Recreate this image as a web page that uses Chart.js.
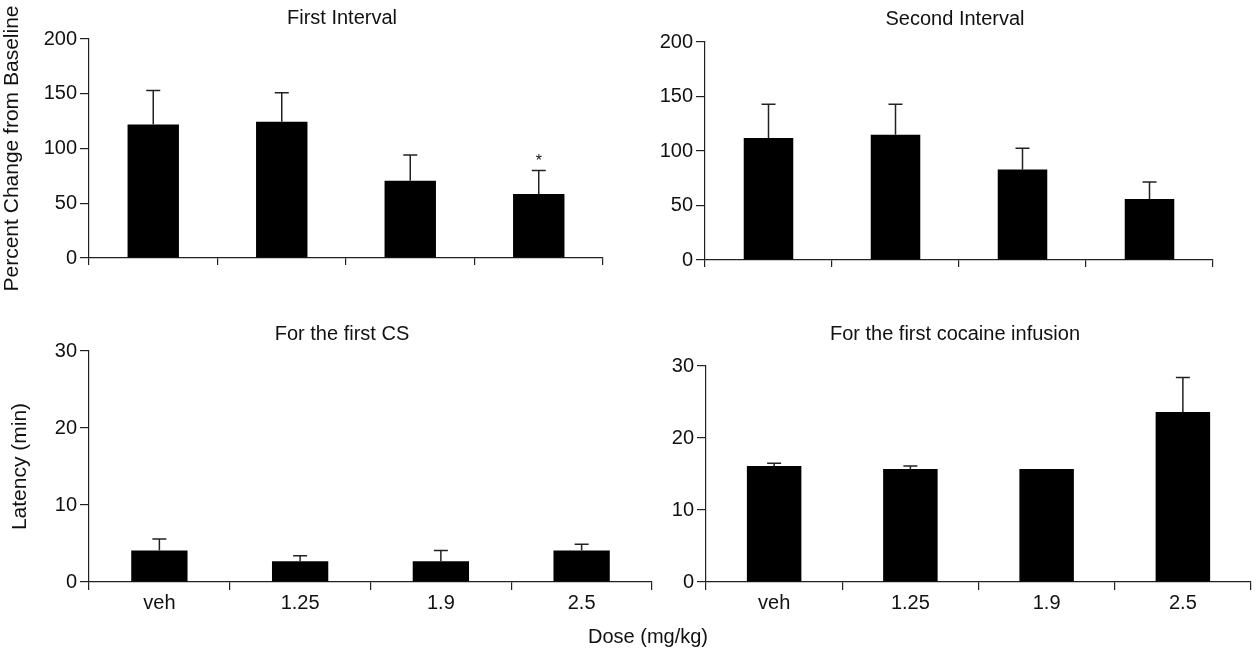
<!DOCTYPE html>
<html>
<head>
<meta charset="utf-8">
<script src="https://cdn.jsdelivr.net/npm/chart.js@4.4.1/dist/chart.umd.min.js"></script>
<style>
  html, body { margin: 0; background: #fff; }
  #wrap { position: relative; width: 1256px; height: 651px; overflow: hidden;
          font-family: 'Liberation Sans', Arial, sans-serif; color: #111; }
  #wrap canvas { position: absolute; left: 0; top: 0; }
  .lbl { position: absolute; font-size: 20px; line-height: 1; white-space: nowrap;
         transform: translate(-50%, -50%); }
</style>
</head>
<body>
<div id="wrap">
  <canvas id="firstChart"  width="1256" height="651"></canvas>
  <canvas id="secondChart" width="1256" height="651"></canvas>
  <canvas id="csChart"     width="1256" height="651"></canvas>
  <canvas id="cocChart"    width="1256" height="651"></canvas>

  <div class="lbl" style="left:342px; top:17px;">First Interval</div>
  <div class="lbl" style="left:955px; top:18px;">Second Interval</div>
  <div class="lbl" style="left:342px; top:333px;">For the first CS</div>
  <div class="lbl" style="left:955px; top:333px;">For the first cocaine infusion</div>
  <div class="lbl" style="left:648px; top:636px;">Dose (mg/kg)</div>
</div>

<script>
'use strict';

// ─── data ────────────────────────────────────────────────────
const doses = ['veh', '1.25', '1.9', '2.5'];

// percent change from baseline
const firstMean  = [122, 124.5, 70.5, 58.5];
const firstErr   = [153, 151, 94, 80];     // top of SEM bar
const firstSig   = ['', '', '', '*'];
const secondMean = [112, 115, 83, 56];
const secondErr  = [143, 143, 102.5, 71.5];

// latency (min)
const csMean  = [4.1, 2.7, 2.7, 4.1];
const csErr   = [5.6, 3.4, 4.1, 4.9];
const cocMean = [16.1, 15.7, 15.7, 23.6];
const cocErr  = [16.5, 16.1, null, 28.4];

const pctTicks = [0, 50, 100, 150, 200];
const latTicks = [0, 10, 20, 30];

const FONT = "'Liberation Sans', Arial, sans-serif";
const INK  = '#222';

// ─── error bars (upper half only) + significance marks ──────
const errorBars = {
  id: 'errorBars',
  afterDatasetsDraw(chart, args, opts) {
    const { ctx } = chart;
    const y = chart.scales.y;
    const meta = chart.getDatasetMeta(0);
    const vals = chart.data.datasets[0].data;
    ctx.save();
    ctx.strokeStyle = INK;
    ctx.lineWidth = 1.5;
    ctx.fillStyle = '#111';
    ctx.font = '16px ' + FONT;
    ctx.textAlign = 'center';
    ctx.textBaseline = 'alphabetic';
    meta.data.forEach((bar, i) => {
      const hi = opts.top ? opts.top[i] : null;
      if (hi === null || hi === undefined) return;
      const x  = bar.x;
      const y0 = y.getPixelForValue(vals[i]);
      const y1 = y.getPixelForValue(hi);
      ctx.beginPath();
      ctx.moveTo(x, y0);
      ctx.lineTo(x, y1);
      ctx.moveTo(x - 7, y1);
      ctx.lineTo(x + 7, y1);
      ctx.stroke();
      if (opts.sig && opts.sig[i]) ctx.fillText(opts.sig[i], x, y1 - 4);
    });
    ctx.restore();
  }
};

// ─── one panel ──────────────────────────────────────────────
function makePanel(id, p) {
  return new Chart(document.getElementById(id), {
    type: 'bar',
    data: {
      labels: doses,
      datasets: [{
        data: p.mean,
        backgroundColor: '#000',
        borderWidth: 0,
        barPercentage: p.barPct,
        categoryPercentage: 1
      }]
    },
    options: {
      responsive: false,
      animation: false,
      layout: { padding: p.pad },
      plugins: {
        legend:  { display: false },
        tooltip: { enabled: false },
        errorBars: { top: p.err, sig: p.sig }
      },
      scales: {
        x: {
          offset: true,
          grid:   { display: true, drawOnChartArea: false, offset: true, tickLength: p.xTick, color: INK, lineWidth: 1.2 },
          border: { display: true, color: INK, width: 1.2 },
          ticks:  { display: p.showX, color: '#111', padding: 1, font: { family: FONT, size: 20 } },
          afterFit: s => { s.height = 40; }
        },
        y: {
          min: p.ticks[0],
          max: p.ticks[p.ticks.length - 1],
          afterBuildTicks: s => { s.ticks = p.ticks.map(v => ({ value: v })); },
          grid:   { display: true, drawOnChartArea: false, tickLength: 9, color: INK, lineWidth: 1.2 },
          border: { display: true, color: INK, width: 1.2 },
          ticks:  { color: '#111', padding: 3, font: { family: FONT, size: 20 } },
          title:  p.yTitle
            ? { display: true, text: p.yTitle, color: '#111', padding: { top: p.yTitlePad, bottom: 0 }, font: { family: FONT, size: 21 } }
            : { display: false },
          afterFit: s => { s.width = p.yWidth; }
        }
      }
    },
    plugins: [errorBars]
  });
}

makePanel('firstChart', {
  mean: firstMean, err: firstErr, sig: firstSig, ticks: pctTicks,
  yTitle: 'Percent Change from Baseline', yTitlePad: 0, yWidth: 89,
  showX: false, xTick: 7, barPct: 0.4,
  pad: { left: 0, right: 653, top: 39, bottom: 353 }
});
makePanel('secondChart', {
  mean: secondMean, err: secondErr, ticks: pctTicks,
  yWidth: 60, showX: false, xTick: 7, barPct: 0.39,
  pad: { left: 645, right: 43, top: 42, bottom: 351 }
});
makePanel('csChart', {
  mean: csMean, err: csErr, ticks: latTicks,
  yTitle: 'Latency (min)', yTitlePad: 8, yWidth: 89,
  showX: true, xTick: 8, barPct: 0.4,
  pad: { left: 0, right: 604, top: 351, bottom: 29 }
});
makePanel('cocChart', {
  mean: cocMean, err: cocErr, ticks: latTicks,
  yWidth: 60, showX: true, xTick: 8, barPct: 0.4,
  pad: { left: 646, right: 5, top: 366, bottom: 29 }
});
</script>
</body>
</html>
